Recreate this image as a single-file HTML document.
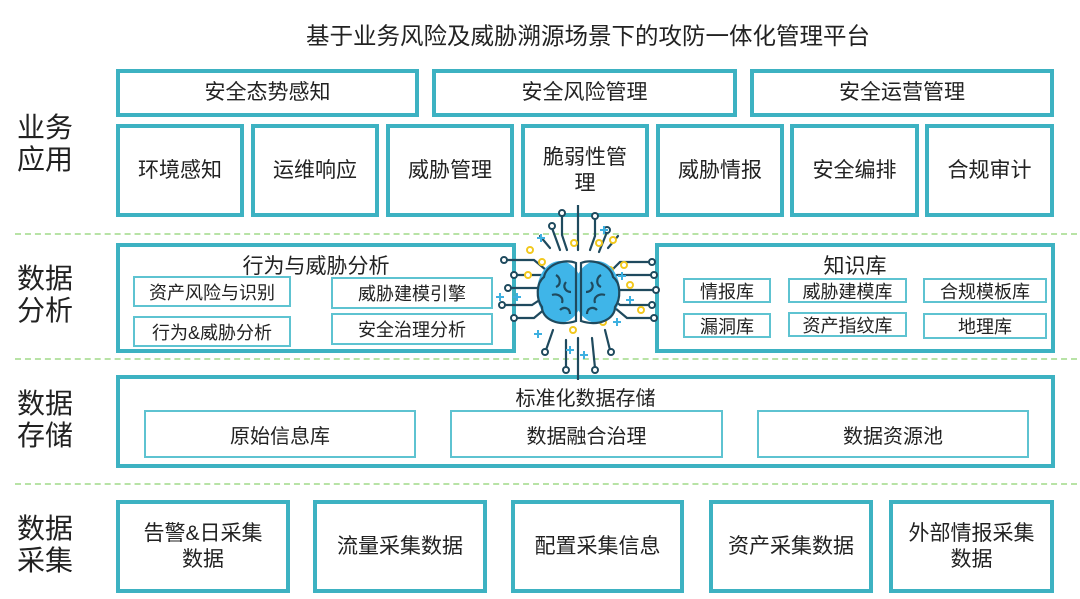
<!DOCTYPE html>
<html><head><meta charset="utf-8">
<style>
*{margin:0;padding:0;box-sizing:border-box}
body{width:1080px;height:599px;background:#fff;position:relative;overflow:hidden;font-family:"Liberation Sans","Noto Sans CJK SC",sans-serif;color:#222}
.a{position:absolute}
.b{position:absolute;border:4px solid #3db2c2;display:flex;align-items:center;justify-content:center;text-align:center;font-size:21px;line-height:26px;background:#fff}
.t{position:absolute;border:2px solid #5ec3d1;display:flex;align-items:center;justify-content:center;font-size:18px;background:#fff}
.lab{position:absolute;left:17px;font-size:28px;line-height:32px;width:70px}
.d{position:absolute;left:15px;width:1062px;height:0;border-top:2px dashed #b8e3a6}
.h{position:absolute;font-size:21px;text-align:center}
</style></head><body>
<div class="a" style="left:282px;width:612px;top:17px;text-align:center;font-size:23.5px;white-space:nowrap">基于业务风险及威胁溯源场景下的攻防一体化管理平台</div>

<div class="lab" style="top:112px">业务<br>应用</div>
<div class="lab" style="top:263px">数据<br>分析</div>
<div class="lab" style="top:388px">数据<br>存储</div>
<div class="lab" style="top:513px">数据<br>采集</div>

<div class="d" style="top:233px"></div>
<div class="d" style="top:358px"></div>
<div class="d" style="top:483px"></div>

<div class="b" style="left:116px;top:69px;width:303px;height:48px">安全态势感知</div>
<div class="b" style="left:432px;top:69px;width:305px;height:48px">安全风险管理</div>
<div class="b" style="left:750px;top:69px;width:304px;height:48px">安全运营管理</div>

<div class="b" style="left:116px;top:124px;width:128px;height:93px">环境感知</div>
<div class="b" style="left:251px;top:124px;width:128px;height:93px">运维响应</div>
<div class="b" style="left:386px;top:124px;width:128px;height:93px">威胁管理</div>
<div class="b" style="left:521px;top:124px;width:128px;height:93px;padding:0 12px">脆弱性管理</div>
<div class="b" style="left:656px;top:124px;width:128px;height:93px">威胁情报</div>
<div class="b" style="left:790px;top:124px;width:129px;height:93px">安全编排</div>
<div class="b" style="left:925px;top:124px;width:129px;height:93px">合规审计</div>

<div class="b" style="left:116px;top:243px;width:400px;height:110px"></div>
<div class="h" style="left:116px;width:400px;top:250px">行为与威胁分析</div>
<div class="t" style="left:133px;top:276px;width:158px;height:31px">资产风险与识别</div>
<div class="t" style="left:133px;top:316px;width:158px;height:31px">行为&amp;威胁分析</div>
<div class="t" style="left:331px;top:277px;width:162px;height:32px">威胁建模引擎</div>
<div class="t" style="left:331px;top:313px;width:162px;height:32px">安全治理分析</div>

<div class="b" style="left:655px;top:243px;width:400px;height:110px"></div>
<div class="h" style="left:755px;width:200px;top:250px">知识库</div>
<div class="t" style="left:683px;top:278px;width:88px;height:25px">情报库</div>
<div class="t" style="left:788px;top:278px;width:119px;height:25px">威胁建模库</div>
<div class="t" style="left:923px;top:278px;width:124px;height:25px">合规模板库</div>
<div class="t" style="left:683px;top:313px;width:88px;height:25px">漏洞库</div>
<div class="t" style="left:788px;top:312px;width:119px;height:25px">资产指纹库</div>
<div class="t" style="left:923px;top:313px;width:124px;height:26px">地理库</div>

<div class="b" style="left:116px;top:375px;width:939px;height:93px"></div>
<div class="h" style="left:116px;width:939px;top:382px;font-size:20px">标准化数据存储</div>
<div class="t" style="left:144px;top:410px;width:272px;height:48px;font-size:20px">原始信息库</div>
<div class="t" style="left:450px;top:410px;width:273px;height:48px;font-size:20px">数据融合治理</div>
<div class="t" style="left:757px;top:410px;width:272px;height:48px;font-size:20px">数据资源池</div>

<div class="b" style="left:116px;top:500px;width:174px;height:93px;padding:0 14px">告警&amp;日采集数据</div>
<div class="b" style="left:313px;top:500px;width:174px;height:93px">流量采集数据</div>
<div class="b" style="left:511px;top:500px;width:173px;height:93px">配置采集信息</div>
<div class="b" style="left:709px;top:500px;width:164px;height:93px">资产采集数据</div>
<div class="b" style="left:889px;top:500px;width:165px;height:93px;padding:0 10px">外部情报采集数据</div>

<svg class="a" style="left:490px;top:205px" width="180" height="175" viewBox="490 205 180 175">
<g stroke="#1f4a5e" stroke-width="2.2" fill="none" stroke-linecap="round">
<line x1="578" y1="205" x2="578" y2="250"/>
<path d="M562 215 v20 l5 15"/><path d="M595 218 v18 l-5 14"/>
<path d="M552 228 l8 22"/><path d="M607 232 l-8 20"/>
<path d="M504 260 h30 l12 10"/><path d="M514 275 h30"/><path d="M508 288 h35"/>
<path d="M502 305 h30 l12 -8"/><path d="M514 318 h20 l12 -10"/>
<path d="M650 262 h-30 l-10 10"/><path d="M652 275 h-35"/><path d="M654 290 h-40"/>
<path d="M650 305 h-30 l-10 -8"/><path d="M652 318 h-25 l-12 -10"/>
<path d="M578 338 v42"/><path d="M566 340 v28"/><path d="M592 338 l3 30"/>
<path d="M553 330 l-7 20"/><path d="M605 330 l5 20"/>
<path d="M540 236 l10 12"/><path d="M618 236 l-10 12"/>
</g>
<g fill="#fff" stroke="#1f4a5e" stroke-width="2">
<circle cx="562" cy="213" r="3"/><circle cx="595" cy="216" r="3"/><circle cx="552" cy="226" r="3"/><circle cx="607" cy="230" r="3"/>
<circle cx="504" cy="260" r="3"/><circle cx="514" cy="275" r="3"/><circle cx="508" cy="288" r="3"/><circle cx="502" cy="305" r="3"/><circle cx="514" cy="318" r="3"/>
<circle cx="652" cy="262" r="3"/><circle cx="654" cy="275" r="3"/><circle cx="656" cy="290" r="3"/><circle cx="652" cy="305" r="3"/><circle cx="654" cy="318" r="3"/>
<circle cx="566" cy="370" r="3"/><circle cx="595" cy="370" r="3"/><circle cx="545" cy="352" r="3"/><circle cx="611" cy="352" r="3"/>
</g>
<g fill="#fff" stroke="#f2c81e" stroke-width="2">
<circle cx="530" cy="250" r="3"/><circle cx="542" cy="262" r="3"/><circle cx="574" cy="243" r="3"/><circle cx="599" cy="243" r="3"/><circle cx="613" cy="240" r="3"/>
<circle cx="528" cy="275" r="3"/><circle cx="610" cy="270" r="3"/><circle cx="624" cy="265" r="3"/><circle cx="630" cy="285" r="3"/><circle cx="612" cy="300" r="3"/><circle cx="641" cy="310" r="3"/><circle cx="573" cy="330" r="3"/><circle cx="603" cy="322" r="3"/>
</g>
<g stroke="#3db0e0" stroke-width="2">
<path d="M537 238 h8 M541 234 v8"/><path d="M600 230 h8 M604 226 v8"/><path d="M496 297 h8 M500 293 v8"/><path d="M513 297 h8 M517 293 v8"/>
<path d="M618 276 h8 M622 272 v8"/><path d="M626 300 h8 M630 296 v8"/><path d="M613 322 h8 M617 318 v8"/><path d="M534 334 h8 M538 330 v8"/>
<path d="M580 355 h8 M584 351 v8"/><path d="M566 350 h8 M570 346 v8"/>
</g>
<ellipse cx="560" cy="292" rx="23" ry="31" fill="#3fb5e8"/>
<ellipse cx="597" cy="292" rx="23" ry="31" fill="#3fb5e8"/>
<g stroke="#1f4a5e" stroke-width="2.2" fill="none">
<path d="M576 263 c-12 -5 -30 2 -32 14 c-8 6 -8 22 -2 30 c0 12 16 20 34 14 z"/>
<path d="M581 263 c12 -5 30 2 32 14 c8 6 8 22 2 30 c0 12 -16 20 -34 14 z"/>
<path d="M556 275 c5 3 5 10 0 12 M552 295 c6 -2 12 2 10 8 M566 282 c-4 5 0 10 5 10 M560 310 c4 -4 10 -2 10 4"/>
<path d="M601 275 c-5 3 -5 10 0 12 M605 295 c-6 -2 -12 2 -10 8 M591 282 c4 5 0 10 -5 10 M597 310 c-4 -4 -10 -2 -10 4"/>
</g>
</svg>
</body></html>
